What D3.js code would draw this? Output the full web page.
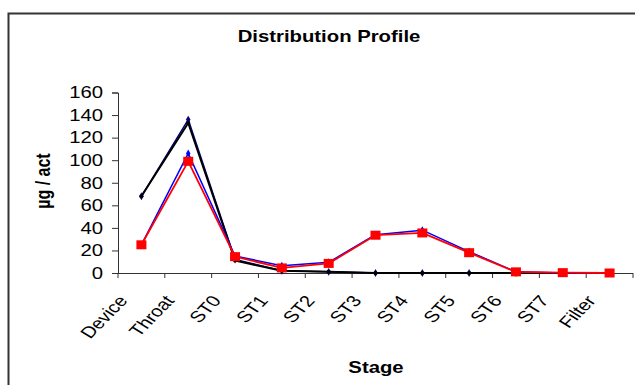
<!DOCTYPE html>
<html><head><meta charset="utf-8">
<script src="https://cdn.jsdelivr.net/npm/d3@7"></script>
<style>body{margin:0;background:#fff}svg{display:block}text{font-family:Arial,"Liberation Sans",sans-serif}</style>
</head><body><svg id="c" width="635" height="385"></svg>
<script>
const categories = ["Device","Throat","ST0","ST1","ST2","ST3","ST4","ST5","ST6","ST7","Filter"];
const navyValues = [68,136,12,2,1,0,0,0,0,0,0];
const blackValues = [68,133,11,2,1,0,0,0,0,0,0];
const blueValues = [25,106,15,6.5,9.5,34,38,19,1,0,0];
const redValues = [25,99,14.5,4.5,8.5,33.5,35.5,18,1,0.3,0];
const yTicks = [0,20,40,60,80,100,120,140,160];

const svg = d3.select("#c");
const W = 635, H = 385;
const x0 = 118, x1 = 633, yTop = 92.5, yBot = 273;
const SX = 1.27; // horizontal stretch of text in the reference

// frame
svg.append("path").attr("d", `M${W+5},13.5 H8.5 V${H+5}`).attr("fill","none").attr("stroke","#333").attr("stroke-width",2);

const x = d3.scaleBand().domain(categories).range([x0, x1]).padding(0);
const y = d3.scaleLinear().domain([0,160]).range([yBot, yTop]);

// y axis
const ya = svg.append("g").attr("transform",`translate(${x0},0)`)
  .call(d3.axisLeft(y).tickValues(yTicks).tickSize(6).tickFormat(""));
ya.select(".domain").attr("stroke","#333");
ya.selectAll(".tick line").attr("stroke","#333");
svg.append("g").selectAll("text").data(yTicks).enter().append("text")
  .attr("transform", d => `translate(103,${y(d)+5.8}) scale(${SX},1)`)
  .attr("text-anchor","end").attr("font-size",16).attr("fill","#000").text(d=>d);

// x axis
const xa = svg.append("g").attr("transform",`translate(0,${yBot})`)
  .call(d3.axisBottom(x).tickSize(0).tickFormat(""));
xa.select(".domain").attr("stroke","#333").attr("d",`M${x0},0.5H${x1}`);
const edges = categories.map(c => x(c)).concat([x1]);
xa.selectAll(".edge").data(edges).enter().append("line").attr("class","edge")
  .attr("x1",d=>d).attr("x2",d=>d).attr("y1",0).attr("y2",5).attr("stroke","#333");

// x labels rotated
svg.append("g").selectAll("text").data(categories).enter().append("text")
  .attr("transform", d => `translate(${x(d)+x.bandwidth()/2-13},${yBot+28}) scale(${SX},1) rotate(-52)`)
  .attr("text-anchor","end").attr("font-size",16).attr("fill","#000").text(d=>d);

// titles
svg.append("text").attr("transform",`translate(329,41.5) scale(${SX},1)`).attr("text-anchor","middle")
  .attr("font-size",16).attr("font-weight","bold").text("Distribution Profile");
svg.append("text").attr("transform",`translate(376,372.5) scale(${SX},1)`).attr("text-anchor","middle")
  .attr("font-size",16).attr("font-weight","bold").text("Stage");
svg.append("text").attr("transform",`translate(50,181) scale(${SX},1) rotate(-90)`).attr("text-anchor","middle")
  .attr("font-size",16).attr("font-weight","bold").text("µg / act");

const cx = d => x(d) + x.bandwidth()/2;
const line = d3.line().x(d=>cx(d.c)).y(d=>y(d.v));
const mk = vals => categories.map((c,i)=>({c, v: vals[i]}));

function series(vals, color, w, marker, msize) {
  const data = mk(vals);
  svg.append("path").datum(data).attr("d", line).attr("fill","none")
    .attr("stroke", color).attr("stroke-width", w).attr("stroke-linejoin","round");
  if (marker === "square") {
    svg.append("g").selectAll("rect").data(data).enter().append("rect")
      .attr("x", d=>cx(d.c)-5).attr("y", d=>y(d.v)-4.5)
      .attr("width", 10).attr("height", 9).attr("fill", color);
  } else if (marker === "diamond") {
    const sym = d3.symbol().type(d3.symbolDiamond).size(msize);
    svg.append("g").selectAll("path").data(data).enter().append("path")
      .attr("transform", d=>`translate(${cx(d.c)},${y(d.v)})`).attr("d", sym).attr("fill", color);
  } else if (marker === "circle") {
    svg.append("g").selectAll("circle").data(data).enter().append("circle")
      .attr("cx", d=>cx(d.c)).attr("cy", d=>y(d.v)).attr("r", msize).attr("fill", color);
  }
}
series(navyValues, "#000080", 1.5, "diamond", 18);
series(blackValues, "#000", 2, "circle", 2);
series(blueValues, "#0000ff", 1.5, "diamond", 18);
series(redValues, "#ff0000", 1.8, "square", 10);
</script></body></html>
